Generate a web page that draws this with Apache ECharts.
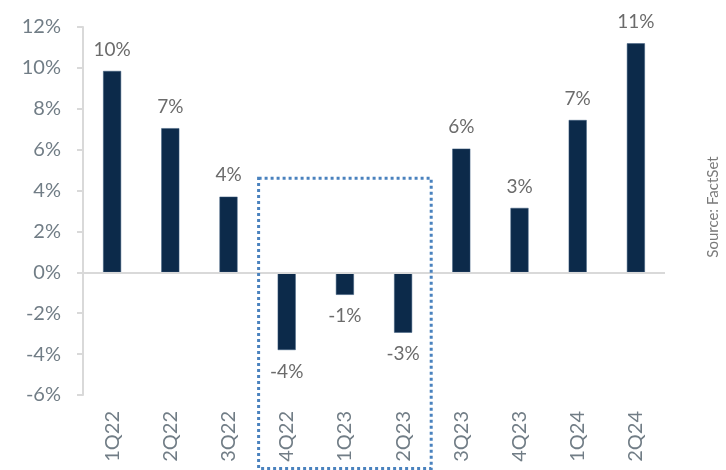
<!DOCTYPE html>
<html lang="en">
<head>
    <meta charset="UTF-8">
    <title>Quarterly growth</title>
    <script src="https://cdn.jsdelivr.net/npm/echarts@6/dist/echarts.min.js"></script>
    <style>
        html, body { margin: 0; padding: 0; background: #fff; }
        #chart1 { width: 726px; height: 470px; }
    </style>
</head>
<body>
<div id="chart1"></div>
<script>
    // data
    var quarters = ['1Q22', '2Q22', '3Q22', '4Q22', '1Q23', '2Q23', '3Q23', '4Q23', '1Q24', '2Q24'];
    var growth = [9.85, 7.05, 3.7, -3.8, -1.1, -2.95, 6.05, 3.15, 7.45, 11.2];
    var shownLabels = ['10%', '7%', '4%', '-4%', '-1%', '-3%', '6%', '3%', '7%', '11%'];
    var yTicks = [-6, 12, 2]; // min, max, interval

    // dotted box around the down quarters
    var boxFrom = '4Q22', boxTo = '2Q23', boxTop = 4.6, boxBottom = -9.6;

    var font = 'Lato, "Noto Sans", sans-serif';
    var myChart = echarts.init(document.getElementById('chart1'), null, {renderer: 'canvas'});

    var barData = growth.map(function (v, i) {
        return {
            value: v,
            label: {
                position: v < 0 ? 'bottom' : 'top',
                formatter: shownLabels[i]
            }
        };
    });

    var option1 = {
        animation: false,
        grid: {left: 83, right: 61, top: 27, bottom: 75},
        xAxis: {
            type: 'category',
            data: quarters,
            axisLine: {show: false},
            axisTick: {show: false},
            axisLabel: {
                rotate: 90,
                margin: 16,
                color: '#717d86',
                fontSize: 20,
                fontFamily: font
            }
        },
        yAxis: {
            type: 'value',
            min: yTicks[0],
            max: yTicks[1],
            interval: yTicks[2],
            splitLine: {show: false},
            axisLine: {show: true, lineStyle: {color: '#d9d9d9', width: 2}},
            axisTick: {show: true, length: 6, lineStyle: {color: '#d9d9d9', width: 2}},
            axisLabel: {
                margin: 22,
                color: '#717d86',
                fontSize: 20,
                fontFamily: font,
                formatter: '{value}%'
            }
        },
        series: [
            {
                type: 'bar',
                data: barData,
                barWidth: 18,
                itemStyle: {color: '#0c2a4a', borderColor: '#3a5a7c', borderWidth: 0.5},
                label: {
                    show: true,
                    distance: 12,
                    color: '#6b6b6b',
                    fontSize: 19,
                    fontFamily: font
                },
                markLine: {
                    silent: true,
                    symbol: 'none',
                    label: {show: false},
                    lineStyle: {color: '#d9d9d9', width: 2, type: 'solid'},
                    data: [{yAxis: 0}]
                },
                z: 3
            },
            {
                type: 'custom',
                silent: true,
                clip: false,
                encode: {x: [0, 1], y: [2, 3]},
                data: [[quarters.indexOf(boxFrom), quarters.indexOf(boxTo), boxTop, boxBottom]],
                renderItem: function (params, api) {
                    var band = api.size([1, 0])[0];
                    var p1 = api.coord([api.value(0), api.value(2)]);
                    var p2 = api.coord([api.value(1), api.value(3)]);
                    var x1 = p1[0] - band / 2 + 1;
                    var x2 = p2[0] + band / 2 - 1;
                    return {
                        type: 'rect',
                        shape: {x: x1, y: p1[1], width: x2 - x1, height: p2[1] - p1[1]},
                        style: {
                            fill: null,
                            stroke: '#4a82be',
                            lineWidth: 3,
                            lineDash: [3, 3]
                        }
                    };
                },
                z: 5
            }
        ],
        graphic: [
            {
                type: 'text',
                x: 713,
                y: 207,
                rotation: Math.PI / 2,
                style: {
                    text: 'Source: FactSet',
                    fill: '#7a7a7a',
                    font: '15px ' + font,
                    align: 'center',
                    verticalAlign: 'middle'
                }
            }
        ]
    };
    myChart.setOption(option1);
</script>
</body>
</html>
